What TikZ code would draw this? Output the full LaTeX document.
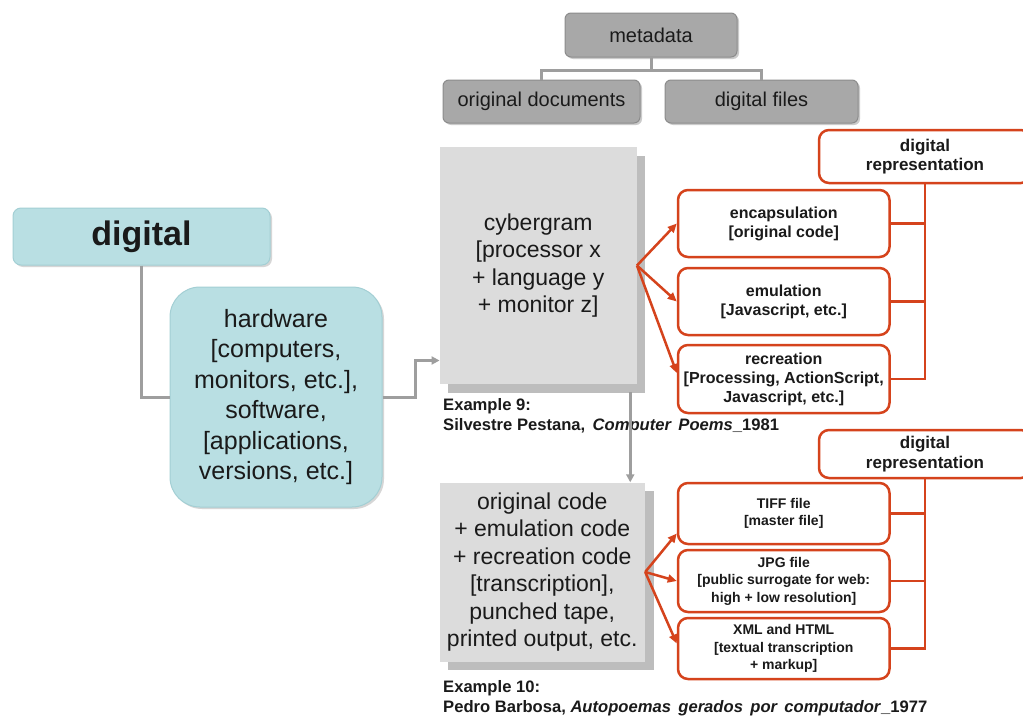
\documentclass[tikz,border=0pt]{standalone}
\usepackage{fontspec}
\setmainfont{Liberation Sans}
\usetikzlibrary{arrows.meta,shadows,calc}
\definecolor{tealfill}{HTML}{B9DFE3}
\definecolor{tealline}{HTML}{A3CFD4}
\definecolor{metafill}{HTML}{A8A8A8}
\definecolor{metaline}{HTML}{8C8C8C}
\definecolor{lightgray}{HTML}{DCDCDC}
\definecolor{shadowgray}{HTML}{BDBDBD}
\definecolor{redline}{HTML}{D5431C}
\definecolor{connector}{HTML}{9E9E9E}
\definecolor{txt}{HTML}{1A1A1A}
\begin{document}
\begin{tikzpicture}[x=1pt,y=-1pt,
  metabox/.style={draw=metaline,line width=1pt,fill=metafill,rounded corners=6pt,inner sep=0pt,
    font=\fontsize{20}{24}\selectfont,text=txt,
    drop shadow={shadow xshift=2pt,shadow yshift=-2pt,fill=black!40,opacity=.5}},
  tealbox/.style={draw=tealline,line width=1pt,fill=tealfill,inner sep=0pt,align=center,text=txt,
    drop shadow={shadow xshift=2pt,shadow yshift=-2pt,fill=black!40,opacity=.4}},
  graybox/.style={fill=lightgray,inner sep=0pt,align=center,text=txt,
    font=\fontsize{23}{27.5}\selectfont,
    drop shadow={shadow xshift=8.5pt,shadow yshift=-8.5pt,fill=shadowgray,opacity=1}},
  redbox/.style={draw=redline,line width=2.5pt,fill=white,rounded corners=10pt,inner sep=0pt,
    align=center,minimum width=211.5pt,text=txt},
  repbox/.style={redbox,minimum width=212pt,font=\bfseries\fontsize{17}{19.5}\selectfont},
  bigred/.style={font=\bfseries\fontsize{16}{19}\selectfont},
  smallred/.style={font=\bfseries\fontsize{14}{17.5}\selectfont},
  grayline/.style={draw=connector,line width=3pt},
  grayarrow/.style={grayline,-{Triangle[length=8pt,width=8pt]}},
  redarrow/.style={draw=redline,line width=2.5pt,-{Triangle[length=9pt,width=8pt]}},
  redline/.style={draw=redline,line width=2.5pt},
  example/.style={anchor=west,align=left,inner sep=0pt,text=txt,font=\bfseries\fontsize{16.6}{20}\selectfont}
]
\useasboundingbox (0,0) rectangle (1023,720);
\fill[white] (0,0) rectangle (1023,720);

% metadata tree
\node[metabox,minimum width=172pt,minimum height=44pt] (meta) at (651,35) {metadata};
\node[metabox,minimum width=197pt,minimum height=43pt] (origdocs) at (541.5,101.5) {original documents};
\node[metabox,minimum width=193pt,minimum height=43pt] (digfiles) at (761.5,101.5) {digital files};
\draw[grayline] (meta.south) -- ++(0,13) coordinate (mj);
\draw[grayline] (origdocs.north) |- (mj) -| (digfiles.north);

% digital / hardware
\node[tealbox,rounded corners=8pt,minimum width=257pt,minimum height=57pt,
  font=\bfseries\fontsize{34}{40}\selectfont] (digital) at (141.5,236.5) {digital};
\node[tealbox,rounded corners=30pt,minimum width=212pt,minimum height=220pt,
  font=\fontsize{25}{30.5}\selectfont] (hw) at (276,397)
  {hardware\\{}[computers,\\monitors, etc.],\\software,\\{}[applications,\\versions, etc.]};
\draw[grayline] (digital.south) |- (hw.west);

% cybergram
\node[graybox,minimum width=197pt,minimum height=237pt] (cyber) at (538.25,265.5)
  {cybergram\\{}[processor x\\+ language y\\+ monitor z]};
\draw[grayarrow] (hw.east) -- ++(33,0) |- ([yshift=-95pt]cyber.west);

\node[example] (ex9) at (443,416)
  {Example 9:\\Silvestre Pestana,\, \textit{Computer\, Poems}\_1981};

% original code
\node[graybox,minimum width=205.5pt,minimum height=179pt] (code) at (542.25,572)
  {original code\\+ emulation code\\+ recreation code\\{}[transcription],\\punched tape,\\printed output, etc.};
\draw[grayarrow] ([xshift=92pt,yshift=-8pt]cyber.south) -- ([xshift=88pt]code.north);

\node[example] (ex10) at (443,698)
  {Example 10:\\Pedro Barbosa, \textit{Autopoemas\, gerados\, por\, computador}\_1977};

% red boxes (upper)
\node[repbox,minimum height=53pt] (rep1) at (925,156.5) {digital\\representation};
\node[redbox,bigred,minimum height=67pt] (encap) at (783.75,223.5) {encapsulation\\{}[original code]};
\node[redbox,bigred,minimum height=67pt] (emul) at (783.75,301.5) {emulation\\{}[Javascript, etc.]};
\node[redbox,bigred,minimum height=68pt] (recre) at (783.75,379) {recreation\\{}[Processing, ActionScript,\\Javascript, etc.]};
\draw[redarrow] (cyber.east) -- (encap.west);
\draw[redarrow] (cyber.east) -- (emul.west);
\draw[redarrow] (cyber.east) -- ([yshift=6pt]recre.west);
\draw[redline] (rep1.south) |- (recre.east);
\draw[redline] (encap.east) -- (encap.east -| rep1.south);
\draw[redline] (emul.east) -- (emul.east -| rep1.south);

% red boxes (lower)
\node[repbox,minimum height=48pt] (rep2) at (925,454) {digital\\representation};
\node[redbox,smallred,minimum height=61pt] (tiff) at (783.75,513.5) {TIFF file\\{}[master file]};
\node[redbox,smallred,minimum height=62pt] (jpg) at (783.75,581) {JPG file\\{}[public surrogate for web:\\high + low resolution]};
\node[redbox,smallred,minimum height=61pt] (xml) at (783.75,648.5) {XML and HTML\\{}[textual transcription\\+ markup]};
\draw[redarrow] (code.east) -- ([yshift=-20pt]tiff.west);
\draw[redarrow] (code.east) -- (jpg.west);
\draw[redarrow] (code.east) -- ([yshift=5pt]xml.west);
\draw[redline] (rep2.south) |- (xml.east);
\draw[redline] (tiff.east) -- (tiff.east -| rep2.south);
\draw[redline] (jpg.east) -- (jpg.east -| rep2.south);
\end{tikzpicture}
\end{document}
